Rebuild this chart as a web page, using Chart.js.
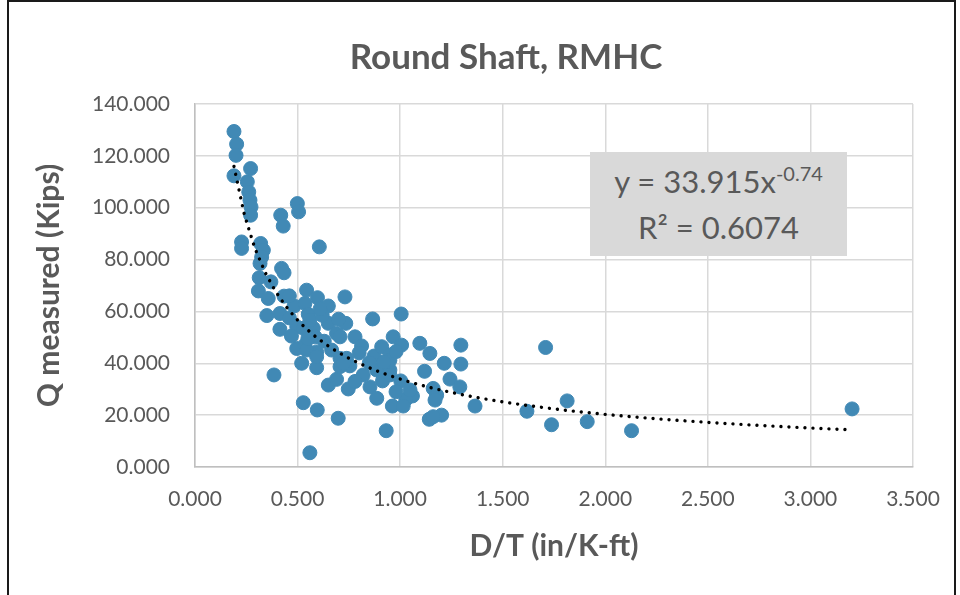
<!DOCTYPE html>
<html>
<head>
<meta charset="utf-8">
<script src="https://cdn.jsdelivr.net/npm/chart.js@4/dist/chart.umd.min.js"></script>
<style>
  html, body { margin: 0; padding: 0; background: #fff; }
  #wrap { position: relative; width: 960px; height: 595px; overflow: hidden; }
  #frame { position: absolute; left: 7px; top: 0; width: 945px; height: 640px; border: 2px solid #1a1a1a; pointer-events: none; }
  #title {
    position: absolute; left: 306px; top: 34px; width: 400px; height: 42px;
    text-align: center; font-family: Lato, sans-serif; font-weight: bold; font-size: 35px;
    line-height: 42px; color: #595959;
  }
  #eq {
    position: absolute; left: 590px; top: 152px; width: 257px; height: 104px;
    background: #d9d9d9; color: #595959; font-family: Lato, sans-serif; font-size: 31px;
    text-align: center; line-height: 46px; padding-top: 6px; box-sizing: border-box;
  }
  #eq sup { font-size: 20px; vertical-align: 12px; line-height: 0; }
</style>
</head>
<body>
<div id="wrap">
  <canvas id="chart" width="960" height="595"></canvas>
  <div id="title">Round Shaft, RMHC</div>
  <div id="eq">y = 33.915x<sup>-0.74</sup><br>R² = 0.6074</div>
  <div id="frame"></div>
</div>
<script>
// D/T (in/K-ft) and Q measured (Kips)
const dtValues = [
  0.190, 0.203, 0.200, 0.271, 0.190, 0.255, 0.262, 0.268, 0.273, 0.271,
  0.499, 0.505, 0.418, 0.430, 0.227, 0.227, 0.320, 0.333, 0.606, 0.325,
  0.317, 0.422, 0.434, 0.313, 0.370, 0.309, 0.434, 0.544, 0.597, 0.731,
  0.357, 0.650, 0.483, 0.536, 0.350, 0.414, 0.552, 0.866, 1.005, 0.414,
  0.496, 0.528, 0.577, 0.650, 0.735, 0.690, 0.780, 0.812, 0.496, 0.536,
  0.593, 0.666, 0.520, 0.593, 0.707, 0.755, 0.873, 0.910, 0.966, 0.886,
  0.950, 0.385, 0.650, 0.690, 0.747, 0.853, 0.914, 0.886, 0.962, 0.528,
  0.596, 0.698, 0.932, 0.560, 1.007, 1.096, 1.145, 1.296, 1.215, 1.296,
  1.119, 0.950, 1.003, 1.243, 1.291, 1.161, 1.178, 1.060, 1.028, 1.015,
  1.365, 1.142, 1.202, 1.161, 1.709, 1.814, 1.618, 1.738, 1.912, 2.128,
  3.203, 0.544, 0.593, 0.739, 0.707, 0.585, 0.707, 0.560, 0.950, 0.723,
  0.950, 1.048, 1.170, 0.460, 0.620, 0.630, 0.470, 0.850, 0.920, 0.980,
  0.800, 0.820, 0.780, 0.980, 0.550, 0.610, 0.460, 0.700
];
const qValues = [
  129.4, 124.5, 120.2, 115.1, 112.3, 110.0, 106.1, 102.9, 100.3, 97.1,
  101.6, 98.4, 97.1, 92.9, 86.8, 84.3, 86.2, 83.6, 84.9, 81.0,
  78.5, 76.6, 74.9, 73.0, 71.4, 67.9, 65.9, 68.2, 65.3, 65.6,
  65.0, 62.1, 62.1, 63.1, 58.4, 59.2, 58.9, 57.1, 59.0, 53.1,
  54.1, 53.5, 53.5, 55.4, 55.4, 51.5, 50.2, 46.7, 45.7, 47.0,
  44.4, 45.1, 40.0, 38.3, 41.9, 39.0, 42.8, 46.4, 50.2, 37.4,
  37.4, 35.5, 31.6, 33.8, 30.1, 30.9, 33.2, 26.5, 23.5, 24.8,
  22.0, 18.8, 14.0, 5.5, 47.0, 47.7, 43.8, 47.0, 40.0, 39.7,
  36.9, 43.2, 33.2, 33.9, 30.9, 30.3, 27.7, 27.4, 26.1, 23.5,
  23.5, 18.4, 20.0, 19.4, 46.1, 25.5, 21.5, 16.3, 17.5, 14.0,
  22.4, 45.1, 42.5, 41.9, 38.7, 50.2, 50.2, 56.7, 41.2, 40.0,
  35.5, 29.7, 25.8, 57.5, 58.5, 48.5, 50.5, 40.2, 40.5, 44.5,
  44.0, 35.5, 33.0, 29.0, 49.5, 61.0, 66.0, 57.0
];

// power trendline shown on the chart: y = 33.915 x^-0.74
const trendA = 33.915;
const trendB = -0.74;
const trendSteps = 60;

const xTicks = { min: 0, max: 3.5, step: 0.5 };
const yTicks = { min: 0, max: 140, step: 20 };

const points = dtValues.map((x, i) => ({ x, y: qValues[i] }));
const xLo = Math.min(...dtValues), xHi = Math.max(...dtValues);
const trend = [];
for (let i = 0; i <= trendSteps; i++) {
  const x = xLo + (xHi - xLo) * i / trendSteps;
  trend.push({ x, y: trendA * Math.pow(x, trendB) });
}

const grey = '#595959';
const tickFont = { family: 'Lato', size: 21 };
const titleFont = { family: 'Lato', size: 30, weight: 'bold' };

new Chart(document.getElementById('chart'), {
  type: 'scatter',
  data: {
    datasets: [
      {
        type: 'line', data: trend, order: 0,
        borderColor: '#000', borderWidth: 3.4, borderDash: [0.01, 8], borderCapStyle: 'round',
        pointRadius: 0, fill: false, tension: 0
      },
      {
        data: points, order: 1,
        backgroundColor: 'rgb(65,137,181)', borderColor: 'rgb(65,137,181)',
        borderWidth: 1, pointRadius: 7
      }
    ]
  },
  options: {
    responsive: false,
    animation: false,
    layout: { padding: { top: 104, right: 47, bottom: 0, left: 0 } },
    plugins: {
      legend: { display: false },
      tooltip: { enabled: false },
      title: { display: false }
    },
    scales: {
      x: {
        type: 'linear', min: xTicks.min, max: xTicks.max,
        afterFit: (s) => { s.height = 128; },
        ticks: { stepSize: xTicks.step, color: grey, font: tickFont, padding: 20, callback: (v) => v.toFixed(3) },
        grid: { color: '#d9d9d9', lineWidth: 1.5, drawTicks: false },
        border: { color: '#bfbfbf', width: 1.5 },
        title: { display: true, text: 'D/T (in/K-ft)', color: grey, font: titleFont, padding: { top: 0, bottom: 31 } }
      },
      y: {
        type: 'linear', min: yTicks.min, max: yTicks.max,
        afterFit: (s) => { s.width = 195; },
        ticks: { stepSize: yTicks.step, color: grey, font: tickFont, padding: 25, callback: (v) => v.toFixed(3) },
        grid: { color: '#d9d9d9', lineWidth: 1.5, drawTicks: false },
        border: { color: '#bfbfbf', width: 1.5 },
        title: { display: true, text: 'Q measured (Kips)', color: grey, font: titleFont, padding: { top: 31, bottom: 0 } }
      }
    }
  }
});
</script>
</body>
</html>
